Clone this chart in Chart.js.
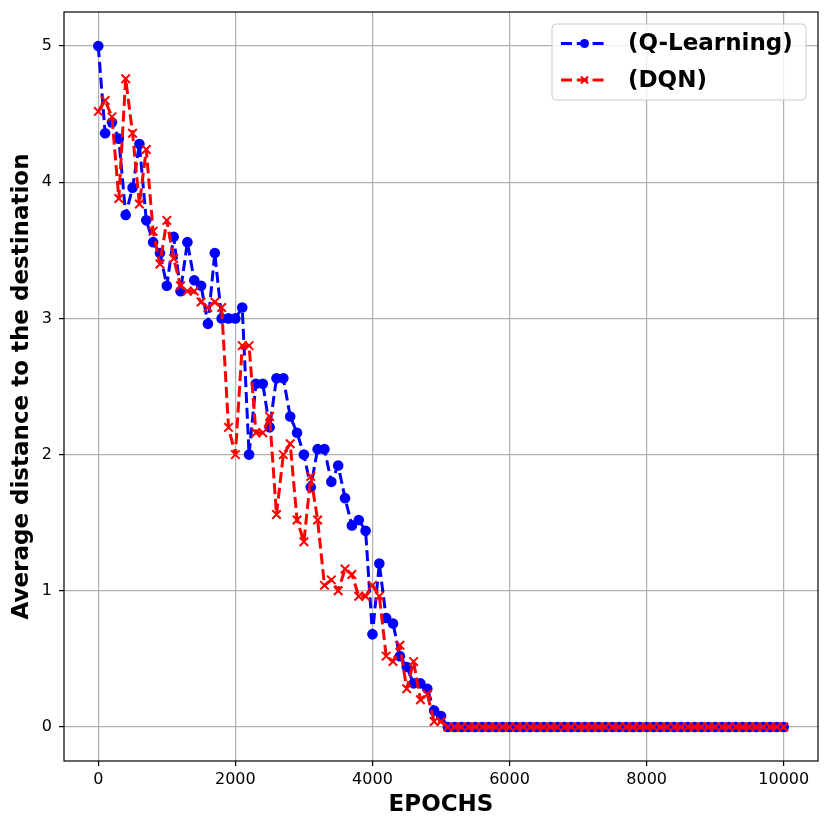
<!DOCTYPE html>
<html><head><meta charset="utf-8">
<script src="https://cdn.jsdelivr.net/npm/chart.js@4"></script>
<style>html,body{margin:0;padding:0;background:#fff;} canvas{display:block;}</style>
</head><body>
<canvas id="c" width="830" height="831"></canvas>
<script>
const epochs = [
  0,100,200,300,400,500,600,700,800,900,
  1000,1100,1200,1300,1400,1500,1600,1700,1800,1900,
  2000,2100,2200,2300,2400,2500,2600,2700,2800,2900,
  3000,3100,3200,3300,3400,3500,3600,3700,3800,3900,
  4000,4100,4200,4300,4400,4500,4600,4700,4800,4900,
  5000,5100,5200,5300,5400,5500,5600,5700,5800,5900,
  6000,6100,6200,6300,6400,6500,6600,6700,6800,6900,
  7000,7100,7200,7300,7400,7500,7600,7700,7800,7900,
  8000,8100,8200,8300,8400,8500,8600,8700,8800,8900,
  9000,9100,9200,9300,9400,9500,9600,9700,9800,9900,
  10000
];
const qLearning = [
  5.00,4.36,4.44,4.32,3.76,3.96,4.28,3.72,3.56,3.48,
  3.24,3.60,3.20,3.56,3.28,3.24,2.96,3.48,3.00,3.00,
  3.00,3.08,2.00,2.52,2.52,2.20,2.56,2.56,2.28,2.16,
  2.00,1.76,2.04,2.04,1.80,1.92,1.68,1.48,1.52,1.44,
  0.68,1.20,0.80,0.76,0.52,0.44,0.32,0.32,0.28,0.12,
  0.08,0,0,0,0,0,0,0,0,0,
  0,0,0,0,0,0,0,0,0,0,
  0,0,0,0,0,0,0,0,0,0,
  0,0,0,0,0,0,0,0,0,0,
  0,0,0,0,0,0,0,0,0,0,
  0
];
const dqn = [
  4.52,4.60,4.48,3.88,4.76,4.36,3.84,4.24,3.64,3.40,
  3.72,3.44,3.24,3.20,3.20,3.12,3.08,3.12,3.08,2.20,
  2.00,2.80,2.80,2.16,2.16,2.28,1.56,2.00,2.08,1.52,
  1.36,1.84,1.52,1.04,1.08,1.00,1.16,1.12,0.96,0.96,
  1.04,0.96,0.52,0.48,0.60,0.28,0.48,0.20,0.24,0.04,
  0.04,0,0,0,0,0,0,0,0,0,
  0,0,0,0,0,0,0,0,0,0,
  0,0,0,0,0,0,0,0,0,0,
  0,0,0,0,0,0,0,0,0,0,
  0,0,0,0,0,0,0,0,0,0,
  0
];
const seriesLabels = ['(Q-Learning)', '(DQN)'];
const xTicks = [0,2000,4000,6000,8000,10000];
const yTicks = [0,1,2,3,4,5];
const xTitle = 'EPOCHS';
const yTitle = 'Average distance to the destination';

const FONT = "'DejaVu Sans', sans-serif";
const DASH = [11, 4.8];

const framePlugin = {
  id: 'frame',
  afterDraw(chart) {
    const {ctx, chartArea: a} = chart;
    ctx.save();
    ctx.strokeStyle = '#000';
    ctx.lineWidth = 1.2;
    ctx.setLineDash([]);
    ctx.strokeRect(a.left, a.top, a.right - a.left, a.bottom - a.top);
    ctx.restore();
  }
};

function drawMarker(ctx, style, x, y, r, color, bw) {
  ctx.save();
  ctx.setLineDash([]);
  if (style === 'circle') {
    ctx.fillStyle = color;
    ctx.beginPath(); ctx.arc(x, y, r, 0, Math.PI * 2); ctx.fill();
  } else {
    ctx.strokeStyle = color; ctx.lineWidth = bw;
    ctx.beginPath();
    ctx.moveTo(x - r, y - r); ctx.lineTo(x + r, y + r);
    ctx.moveTo(x + r, y - r); ctx.lineTo(x - r, y + r);
    ctx.stroke();
  }
  ctx.restore();
}

const legendPlugin = {
  id: 'mplLegend',
  afterDraw(chart) {
    const ctx = chart.ctx;
    const bx = 552, by = 24, bw = 254, bh = 76, rad = 4;
    ctx.save();
    ctx.beginPath();
    ctx.roundRect(bx, by, bw, bh, rad);
    ctx.fillStyle = 'rgba(255,255,255,0.8)';
    ctx.fill();
    ctx.strokeStyle = '#cccccc';
    ctx.lineWidth = 1;
    ctx.stroke();
    const rows = [43.5, 80];
    chart.data.datasets.forEach((ds, i) => {
      const y = rows[i];
      ctx.save();
      ctx.strokeStyle = ds.borderColor;
      ctx.lineWidth = ds.borderWidth;
      ctx.setLineDash(DASH);
      ctx.beginPath(); ctx.moveTo(561, y); ctx.lineTo(608, y); ctx.stroke();
      ctx.restore();
      drawMarker(ctx, ds.pointStyle, 584.5, y, ds.pointStyle === 'circle' ? 4.5 : 3.5, ds.borderColor, 2);
      ctx.fillStyle = '#000';
      ctx.font = "bold 23px " + FONT;
      ctx.textAlign = 'left';
      ctx.textBaseline = 'middle';
      ctx.fillText(ds.label, 628, y + 1);
    });
    ctx.restore();
  }
};

const ctx = document.getElementById('c').getContext('2d');
new Chart(ctx, {
  type: 'line',
  data: {
    datasets: [
      {
        label: seriesLabels[0],
        data: epochs.map((e, i) => ({x: e, y: qLearning[i]})),
        borderColor: '#0000ff',
        backgroundColor: '#0000ff',
        borderWidth: 3,
        borderDash: DASH,
        borderJoinStyle: 'round',
        borderCapStyle: 'butt',
        pointStyle: 'circle',
        pointRadius: 5.3,
        pointBorderWidth: 0,
        pointHoverRadius: 5.3,
        tension: 0,
        fill: false,
        order: 1
      },
      {
        label: seriesLabels[1],
        data: epochs.map((e, i) => ({x: e, y: dqn[i]})),
        borderColor: '#ff0000',
        backgroundColor: '#ff0000',
        borderWidth: 3,
        borderDash: DASH,
        borderJoinStyle: 'round',
        borderCapStyle: 'butt',
        pointStyle: 'crossRot',
        pointRadius: 6,
        pointBorderWidth: 2,
        pointHoverRadius: 6,
        tension: 0,
        fill: false,
        order: 0
      }
    ]
  },
  options: {
    responsive: false,
    animation: false,
    devicePixelRatio: 1,
    layout: {padding: {left: 0, top: 12, right: 12, bottom: 0}},
    plugins: {legend: {display: false}, tooltip: {enabled: false}},
    scales: {
      x: {
        type: 'linear',
        min: -500, max: 10500,
        afterBuildTicks: s => { s.ticks = xTicks.map(v => ({value: v})); },
        afterFit: s => { s.height = 70; s.paddingLeft = 0; s.paddingRight = 0; },
        grid: {color: '#b0b0b0', lineWidth: 1.2, tickColor: '#000', tickLength: 5, tickWidth: 1.2},
        border: {display: false},
        ticks: {color: '#000', font: {family: FONT, size: 16}, padding: 4, maxRotation: 0, autoSkip: false,
                callback: v => String(v)},
        title: {display: true, text: xTitle, color: '#000', font: {family: FONT, size: 23, weight: 'bold'}, padding: {top: 0, bottom: 12}}
      },
      y: {
        type: 'linear',
        min: -0.25, max: 5.25,
        afterBuildTicks: s => { s.ticks = yTicks.map(v => ({value: v})); },
        afterFit: s => { s.width = 64; s.paddingTop = 0; s.paddingBottom = 0; },
        grid: {color: '#b0b0b0', lineWidth: 1.2, tickColor: '#000', tickLength: 5, tickWidth: 1.2},
        border: {display: false},
        ticks: {color: '#000', font: {family: FONT, size: 16}, padding: 7, autoSkip: false,
                callback: v => String(v)},
        title: {display: true, text: yTitle, color: '#000', font: {family: FONT, size: 23, weight: 'bold'}, padding: {top: 8, bottom: 0}}
      }
    }
  },
  plugins: [framePlugin, legendPlugin]
});
</script>
</body></html>
